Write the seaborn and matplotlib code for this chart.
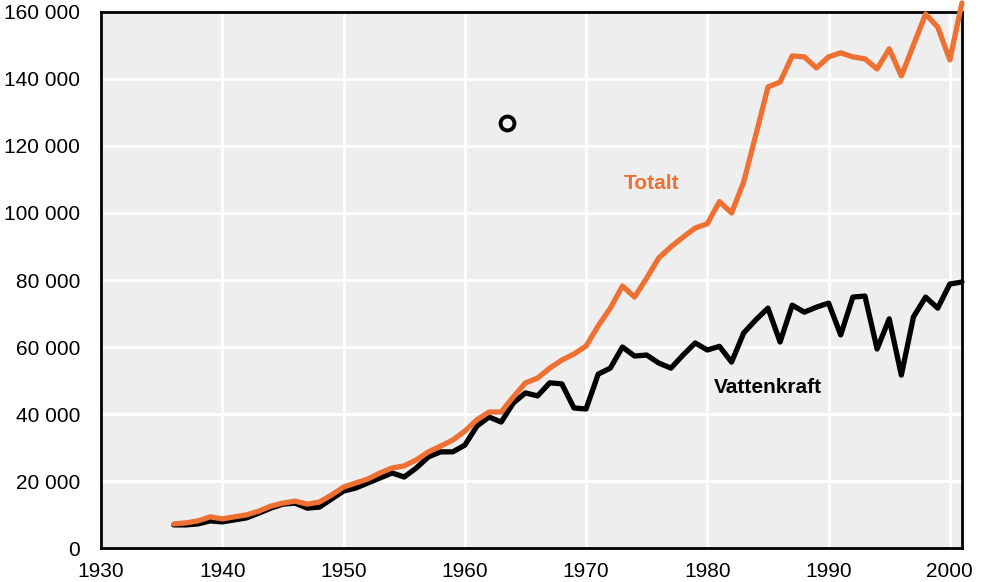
import numpy as np
import pandas as pd
import matplotlib
matplotlib.use("Agg")
import matplotlib.pyplot as plt
from matplotlib.ticker import FuncFormatter
import seaborn as sns

# Electricity production (GWh)
years = list(range(1936, 2002))

totalt = [
    7200, 7500, 8100, 9300, 8700, 9300, 9900, 11000, 12500, 13400,
    14000, 13100, 13700, 15800, 18200, 19400, 20600, 22400, 23900, 24500,
    26300, 28700, 30400, 32200, 34900, 38300, 40600, 40600, 45100, 49300,
    50700, 53700, 56100, 57900, 60300, 66300, 71600, 78200, 74900, 80600,
    86600, 89900, 92800, 95500, 96800, 103400, 100000, 109300, 123300, 137600,
    139100, 146900, 146600, 143300, 146600, 147800, 146600, 146000, 143000, 149000,
    140900, 150100, 159400, 155500, 145700, 162700,
]

vattenkraft = [
    6900, 6900, 7200, 8100, 7800, 8400, 9000, 10400, 11900, 13100,
    13400, 11900, 12200, 14600, 17000, 17900, 19400, 20900, 22400, 21200,
    23900, 27200, 28700, 28700, 30700, 36400, 39100, 37600, 43300, 46300,
    45400, 49300, 49000, 41800, 41500, 51900, 53700, 60000, 57300, 57600,
    55200, 53700, 57600, 61200, 59100, 60200, 55500, 64200, 68100, 71600,
    61500, 72500, 70400, 71900, 73100, 63600, 74900, 75200, 59400, 68400,
    51600, 69000, 74900, 71600, 78800, 79400,
]

# stray ring mark in the original scan
dot_x = [1963.5]
dot_y = [126900]

x_ticks = list(range(1930, 2001, 10))
y_ticks = list(range(0, 160001, 20000))

df = pd.DataFrame({"year": years, "Totalt": totalt, "Vattenkraft": vattenkraft})

sns.set_style("white")
plt.rcParams["font.family"] = ["Liberation Sans", "DejaVu Sans"]

fig = plt.figure(figsize=(9.82, 5.82), dpi=100)
ax = fig.add_axes([0.1029, 0.0584, 0.8767, 0.921])
ax.set_facecolor("#eeeeee")

sns.lineplot(data=df, x="year", y="Vattenkraft", color="black", linewidth=3.8,
             ax=ax, clip_on=False, zorder=3)
sns.lineplot(data=df, x="year", y="Totalt", color="#ee7033", linewidth=3.8,
             ax=ax, clip_on=False, zorder=4)
ax.scatter(dot_x, dot_y, s=100, facecolor="#f4f4f4", edgecolor="black",
           linewidth=2.8, zorder=5)

ax.set_xlim(1930, 2001)
ax.set_ylim(0, 160000)
ax.set_xticks(x_ticks)
ax.set_yticks(y_ticks)
ax.yaxis.set_major_formatter(FuncFormatter(lambda v, p: f"{int(v):,}".replace(",", " ")))
ax.tick_params(axis="both", length=0, labelsize=15, colors="black")
ax.tick_params(axis="y", pad=15)
ax.tick_params(axis="x", pad=10)
ax.grid(True, color="white", linewidth=2)
ax.set_axisbelow(True)
ax.set_xlabel("")
ax.set_ylabel("")

for s in ax.spines.values():
    s.set_visible(True)
    s.set_color("black")
    s.set_linewidth(2)

ax.text(1975.4, 108700, "Totalt", color="#ee7033", fontsize=15,
        fontweight="bold", ha="center", va="center")
ax.text(1985.0, 48000, "Vattenkraft", color="black", fontsize=15,
        fontweight="bold", ha="center", va="center")

fig.savefig("out.png", dpi=100)
plt.close(fig)
